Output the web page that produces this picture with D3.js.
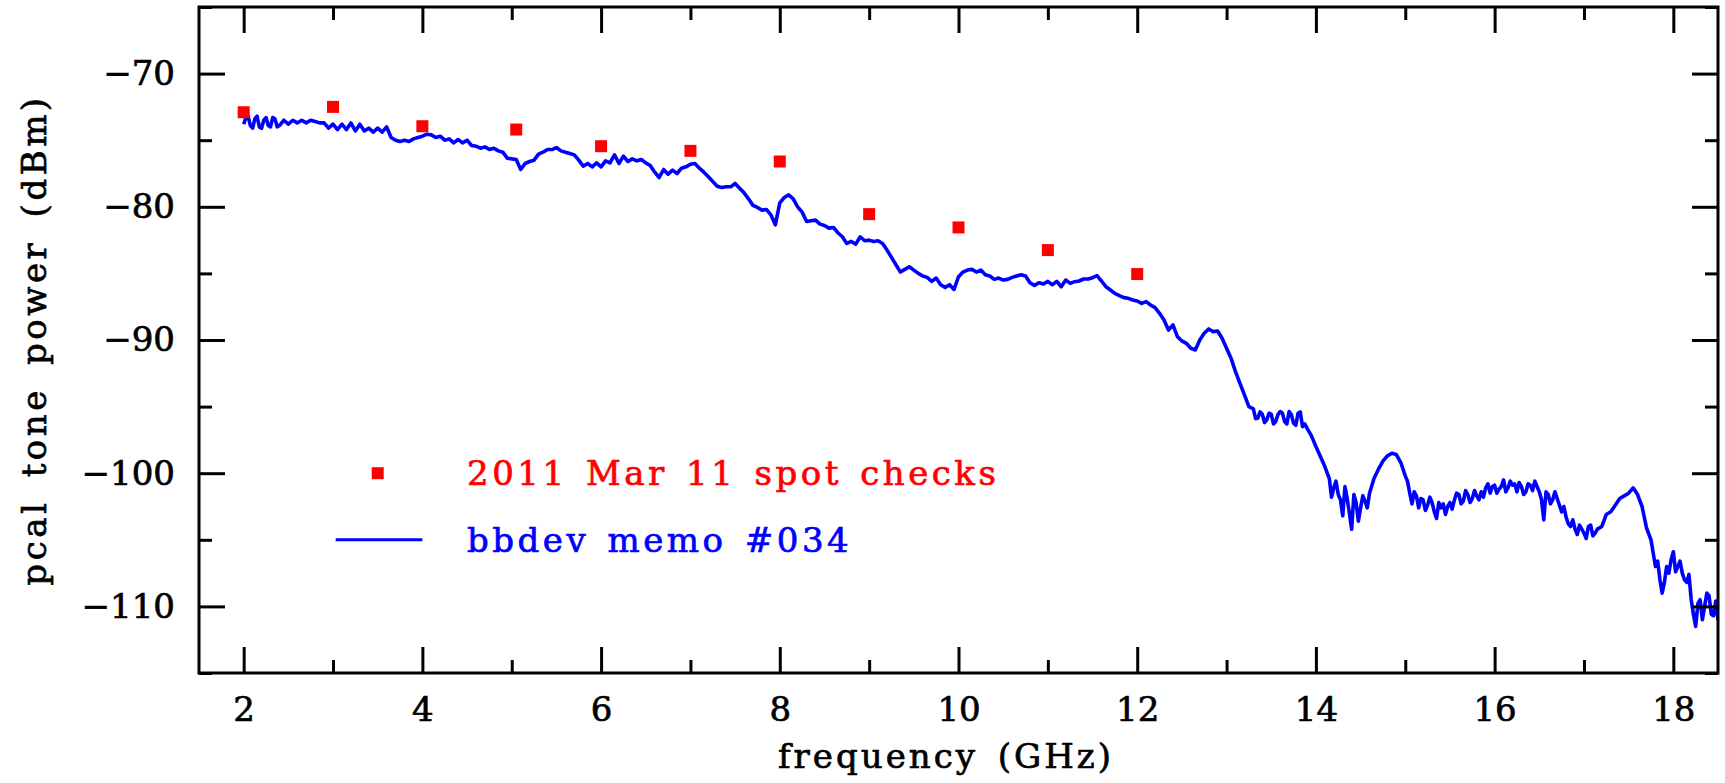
<!DOCTYPE html>
<meta charset="utf-8">
<style>

body {
  margin: 0;
  background: #fff;
}

text {
  font-family: "DejaVu Serif", serif;
  stroke-width: 0.7px;
}

.axis path {
  display: none;
}

.axis line {
  stroke: #000;
  stroke-width: 3px;
}

.axis text {
  font-size: 34px;
  fill: #000;
  stroke: #000;
}

.frame {
  fill: none;
  stroke: #000;
  stroke-width: 3px;
}

</style>
<svg width="1725" height="783"></svg>
<script src="https://d3js.org/d3.v7.min.js"></script>
<script>

// Spot checks (red squares), frequency in GHz, power in dBm
var spotFreq = [2, 3, 4, 5.05, 6, 7, 8, 9, 10, 11, 12];
var spotPower = [-72.9, -72.5, -73.95, -74.2, -75.45, -75.8, -76.6, -80.55, -81.55, -83.25, -85.05];

var memoStart = 2.0,
    memoStep = 0.05;
var memoPower = [
  -73.8, -73.2, -74.1, -73.2, -74.1, -73.3, -74.0, -73.4, -73.9, -73.5, -73.8, -73.5, -73.7, -73.5, -73.7, -73.5, -73.6, -73.7, -73.7, -74.1,
  -73.8, -74.2, -73.8, -74.2, -73.7, -74.3, -73.8, -74.3, -74.1, -74.4, -74.1, -74.4, -74.0, -74.8, -75.0, -75.1, -75.0, -75.1, -74.9, -74.8,
  -74.7, -74.55, -74.6, -74.8, -74.7, -75.0, -74.9, -75.2, -74.95, -75.2, -75.0, -75.4, -75.45, -75.6, -75.5, -75.7, -75.6, -75.8, -75.9, -76.35,
  -76.4, -76.45, -77.2, -76.75, -76.6, -76.5, -76.05, -75.9, -75.7, -75.7, -75.55, -75.8, -75.9, -76.0, -76.1, -76.5, -76.95, -76.75, -77.0, -76.7,
  -77.0, -76.55, -76.7, -76.1, -76.75, -76.2, -76.6, -76.4, -76.55, -76.45, -76.7, -76.9, -77.4, -77.8, -77.2, -77.55, -77.25, -77.5, -77.1, -77.0,
  -76.8, -76.75, -77.1, -77.4, -77.75, -78.1, -78.45, -78.55, -78.5, -78.5, -78.25, -78.6, -78.95, -79.4, -79.9, -80.05, -80.25, -80.2, -80.6, -81.35,
  -79.7, -79.3, -79.1, -79.4, -80.0, -80.4, -81.1, -81.05, -81.0, -81.3, -81.4, -81.6, -81.55, -81.95, -82.25, -82.75, -82.6, -82.8, -82.25, -82.55,
  -82.5, -82.6, -82.55, -82.75, -83.25, -83.8, -84.35, -84.9, -84.7, -84.5, -84.75, -85.0, -85.2, -85.3, -85.6, -85.35, -85.85, -86.05, -85.85, -86.2,
  -85.25, -84.9, -84.75, -84.7, -84.9, -84.75, -85.1, -85.2, -85.45, -85.35, -85.5, -85.45, -85.3, -85.2, -85.1, -85.2, -85.7, -85.9, -85.7, -85.8,
  -85.6, -85.85, -85.6, -86.0, -85.5, -85.75, -85.62, -85.57, -85.42, -85.42, -85.32, -85.17, -85.57, -86.0, -86.25, -86.5, -86.67, -86.82, -86.87, -87.0,
  -87.07, -87.25, -87.12, -87.37, -87.57, -88.0, -88.5, -89.25, -88.87, -89.75, -90.07, -90.25, -90.62, -90.75, -90.0, -89.5, -89.17, -89.37, -89.32, -89.87,
  -90.62, -91.37, -92.37, -93.25, -94.12, -95.0, -95.17, -95.87, -95.57, -96.0, -95.57, -96.12, -95.37, -96.12, -95.37, -96.25, -95.5, -96.5, -96.62, -97.2,
  -98.0, -98.75, -99.5, -100.4, -101.1, -101.6, -103.2, -101.9, -104.2, -102.2, -102.6, -102.1, -101.5, -100.4, -99.7, -99.1, -98.7, -98.5, -98.6, -99.2,
  -100.2, -101.5, -101.4, -102.6, -102.0, -102.4, -102.2, -103.4, -102.6, -103.1, -102.2, -102.0, -101.6, -102.1, -101.6, -101.9, -101.7, -101.4, -101.1, -101.5,
  -100.9, -101.2, -100.5, -101.1, -100.9, -101.4, -101.0, -101.4, -100.9, -100.6, -101.4, -103.5, -101.6, -102.0, -101.9, -102.9, -103.3, -104.0, -104.2, -103.9,
  -104.5, -104.0, -104.7, -104.2, -104.0, -103.1, -102.9, -102.4, -101.9, -101.7, -101.5, -101.1, -101.6, -102.5, -104.1, -105.0, -107.0, -108.0, -108.2, -107.5,
  -105.9, -107.0, -107.5, -108.2, -109.5, -111.5, -109.5, -110.0, -109.2, -110.7, -111.0
];

// Extra readings between the 0.05 GHz points where the trace is very noisy
var extraFreq = [
  2.025, 2.075, 2.125, 2.175, 2.225, 2.275, 2.325, 2.375,
  13.325, 13.375, 13.425, 13.475, 13.525, 13.575, 13.625, 13.675, 13.725, 13.775, 13.825, 13.875,
  14.175, 14.225, 14.275, 14.325, 14.375, 14.425, 14.475, 14.525, 14.575,
  15.025, 15.075, 15.125, 15.175, 15.225, 15.275, 15.325, 15.375, 15.425, 15.475, 15.525, 15.575, 15.625, 15.675, 15.725, 15.775, 15.825, 15.875, 15.925, 15.975,
  16.025, 16.075, 16.125, 16.175, 16.225, 16.275, 16.325, 16.375, 16.425, 16.475, 16.525, 16.575, 16.625, 16.675, 16.725, 16.775, 16.825, 16.875, 16.925, 16.975,
  17.025, 17.075, 17.125,
  17.825, 17.875, 17.925, 17.975, 18.025, 18.075, 18.125, 18.175, 18.225, 18.275, 18.325, 18.375, 18.425, 18.475
];
var extraPower = [
  -73.3, -73.9, -73.4, -74.0, -73.5, -73.9, -73.3, -74.0,
  -95.9, -95.4, -96.2, -95.5, -96.3, -95.6, -95.5, -96.3, -95.6, -96.4, -95.4, -96.3,
  -101.8, -100.6, -102.0, -101.0, -103.0, -101.6, -103.6, -101.7, -102.6,
  -100.6, -102.3, -101.7, -101.9, -102.8, -101.8, -102.9, -102.2, -102.3, -102.5, -102.7, -101.5, -102.3, -101.3, -102.2, -101.3, -102.0, -101.8, -100.8, -101.0,
  -101.5, -101.0, -101.4, -100.6, -100.8, -100.7, -101.6, -100.8, -101.3, -101.0, -102.0, -101.4, -102.3, -101.4, -102.4, -102.5, -103.8, -103.5, -104.6, -104.2,
  -104.9, -103.9, -104.5,
  -106.6, -109.0, -107.0, -106.5, -107.4, -106.6, -108.0, -107.6, -110.6, -109.8, -111.0, -109.0, -110.6, -109.6
];

// Axis ticks
var xMajor = [2, 4, 6, 8, 10, 12, 14, 16, 18],
    xMinor = [3, 5, 7, 9, 11, 13, 15, 17];
var yMajor = [-110, -100, -90, -80, -70],
    yMinor = [-115, -105, -95, -85, -75, -65];

var legendLabels = ["2011 Mar 11 spot checks", "bbdev memo #034"];

var svg = d3.select("svg"),
    margin = {top: 7, right: 7, bottom: 110, left: 199},
    width = +svg.attr("width") - margin.left - margin.right,
    height = +svg.attr("height") - margin.top - margin.bottom;

var g = svg.append("g")
    .attr("transform", "translate(" + margin.left + "," + margin.top + ")");

var x = d3.scaleLinear().domain([1.5, 18.5]).range([0, width]);
var y = d3.scaleLinear().domain([-115, -65]).range([height, 0]);

// Build the trace points from the arrays, sorted by frequency
var memo = memoPower.map(function(p, i) {
  return {f: memoStart + i * memoStep, p: p};
}).concat(extraFreq.map(function(f, i) {
  return {f: f, p: extraPower[i]};
}));
memo.sort(function(a, b) { return a.f - b.f; });

var spots = spotFreq.map(function(f, i) { return {f: f, p: spotPower[i]}; });

g.append("clipPath")
    .attr("id", "clip")
  .append("rect")
    .attr("width", width)
    .attr("height", height);

// Blue trace
var line = d3.line()
    .x(function(d) { return x(d.f); })
    .y(function(d) { return y(d.p); });

g.append("path")
    .datum(memo)
    .attr("clip-path", "url(#clip)")
    .attr("fill", "none")
    .attr("stroke", "#0000ff")
    .attr("stroke-width", 3.6)
    .attr("stroke-linejoin", "round")
    .attr("d", line);

// Red squares
var sq = 12;
g.selectAll(".spot")
    .data(spots)
  .enter().append("rect")
    .attr("class", "spot")
    .attr("x", function(d) { return x(d.f) - sq / 2; })
    .attr("y", function(d) { return y(d.p) - sq / 2; })
    .attr("width", sq)
    .attr("height", sq)
    .attr("fill", "#ff0000");

// Axes: ticks point inwards on all four sides
var fmt = function(d) { return "\u2212" + Math.abs(d); };

g.append("g")
    .attr("class", "axis")
    .attr("transform", "translate(0," + height + ")")
    .call(d3.axisBottom(x).tickValues(xMajor).tickSize(-26).tickPadding(24))
  .selectAll("text")
    .attr("dy", "0.71em");
g.append("g")
    .attr("class", "axis")
    .attr("transform", "translate(0," + height + ")")
    .call(d3.axisBottom(x).tickValues(xMinor).tickSize(-13).tickFormat(""));
g.append("g")
    .attr("class", "axis")
    .call(d3.axisTop(x).tickValues(xMajor).tickSize(-26).tickFormat(""));
g.append("g")
    .attr("class", "axis")
    .call(d3.axisTop(x).tickValues(xMinor).tickSize(-13).tickFormat(""));

g.append("g")
    .attr("class", "axis")
    .call(d3.axisLeft(y).tickValues(yMajor).tickSize(-26).tickPadding(24).tickFormat(fmt));
g.append("g")
    .attr("class", "axis")
    .call(d3.axisLeft(y).tickValues(yMinor).tickSize(-13).tickFormat(""));
g.append("g")
    .attr("class", "axis")
    .attr("transform", "translate(" + width + ",0)")
    .call(d3.axisRight(y).tickValues(yMajor).tickSize(-26).tickFormat(""));
g.append("g")
    .attr("class", "axis")
    .attr("transform", "translate(" + width + ",0)")
    .call(d3.axisRight(y).tickValues(yMinor).tickSize(-13).tickFormat(""));

g.append("rect")
    .attr("class", "frame")
    .attr("width", width)
    .attr("height", height);

// Axis titles
svg.append("text")
    .attr("x", 946)
    .attr("y", 768)
    .attr("text-anchor", "middle")
    .attr("font-size", 34)
    .attr("letter-spacing", 3)
    .attr("word-spacing", 6)
    .attr("stroke", "#000")
    .text("frequency (GHz)");

svg.append("text")
    .attr("transform", "translate(46," + (margin.top + height / 2) + ") rotate(-90)")
    .attr("text-anchor", "middle")
    .attr("font-size", 34)
    .attr("letter-spacing", 3.5)
    .attr("word-spacing", 8)
    .attr("stroke", "#000")
    .text("pcal tone power (dBm)");

// Legend
var legend = g.append("g");

legend.append("rect")
    .attr("x", x(3.5) - sq / 2)
    .attr("y", y(-100) - sq / 2)
    .attr("width", sq)
    .attr("height", sq)
    .attr("fill", "#ff0000");

legend.append("line")
    .attr("x1", x(3.03))
    .attr("x2", x(4.0))
    .attr("y1", y(-105))
    .attr("y2", y(-105))
    .attr("stroke", "#0000ff")
    .attr("stroke-width", 3);

legend.selectAll(".ltext")
    .data(legendLabels)
  .enter().append("text")
    .attr("class", "ltext")
    .attr("x", x(4.5))
    .attr("y", function(d, i) { return y(i === 0 ? -100 : -105); })
    .attr("dy", "0.36em")
    .attr("font-size", 34)
    .attr("letter-spacing", 3.5)
    .attr("word-spacing", 4)
    .attr("fill", function(d, i) { return i === 0 ? "#ff0000" : "#0000ff"; })
    .attr("stroke", function(d, i) { return i === 0 ? "#ff0000" : "#0000ff"; })
    .text(function(d) { return d; });

</script>
